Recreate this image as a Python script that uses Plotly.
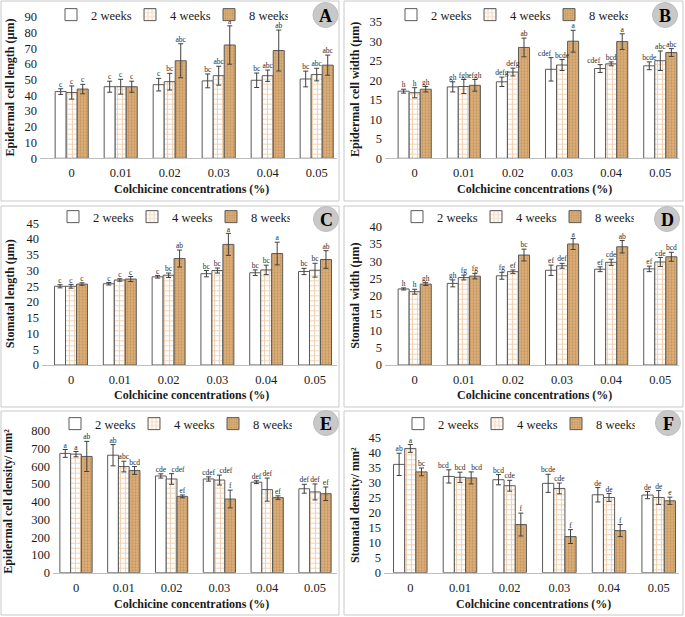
import plotly.graph_objects as go

concentrations = ["0", "0.01", "0.02", "0.03", "0.04", "0.05"]
weeks = ["2 weeks", "4 weeks", "8 weeks"]

# Panel A - Epidermal cell length (um)
a_mean_2w = [42.4, 45.5, 46.8, 49.2, 49.6, 50.4]
a_mean_4w = [41.8, 45.5, 48.7, 52.5, 52.5, 53.2]
a_mean_8w = [44.0, 45.5, 62.0, 72.0, 68.5, 59.2]
a_err_2w = [1.8, 3.5, 4.0, 4.4, 4.6, 5.0]
a_err_4w = [4.2, 4.7, 5.3, 6.0, 3.6, 4.0]
a_err_8w = [3.0, 3.5, 10.8, 12.2, 13.0, 6.4]
a_let_2w = ["c", "c", "c", "bc", "bc", "bc"]
a_let_4w = ["c", "c", "bc", "abc", "abc", "abc"]
a_let_8w = ["c", "c", "abc", "a", "ab", "abc"]

# Panel B - Epidermal cell width (um)
b_mean_2w = [17.2, 18.3, 19.6, 22.8, 23.0, 23.7]
b_mean_4w = [16.8, 18.4, 22.1, 23.9, 24.2, 25.0]
b_mean_8w = [17.7, 18.7, 28.4, 30.0, 29.9, 27.1]
b_err_2w = [0.5, 1.3, 1.2, 3.0, 1.0, 1.0]
b_err_4w = [1.3, 1.8, 1.0, 1.4, 0.5, 2.5]
b_err_8w = [0.7, 1.5, 2.4, 2.8, 2.0, 1.0]
b_let_2w = ["h", "gh", "defg", "cdef", "cdef", "bcde"]
b_let_4w = ["h", "fgh", "defg", "bcde", "bcd", "abc"]
b_let_8w = ["gh", "efgh", "ab", "a", "a", "abc"]

# Panel C - Stomatal length (um)
c_mean_2w = [25.0, 25.8, 28.0, 29.0, 29.3, 29.7]
c_mean_4w = [25.0, 27.0, 28.5, 30.0, 30.2, 30.1]
c_mean_8w = [25.7, 27.3, 33.8, 38.3, 35.4, 33.5]
c_err_2w = [0.5, 0.4, 0.4, 1.0, 0.9, 1.0]
c_err_4w = [0.6, 0.4, 0.7, 0.8, 1.5, 2.2]
c_err_8w = [0.4, 0.8, 2.7, 3.5, 3.6, 2.8]
c_let_2w = ["c", "c", "c", "bc", "bc", "bc"]
c_let_4w = ["c", "c", "bc", "bc", "bc", "bc"]
c_let_8w = ["c", "c", "ab", "a", "a", "ab"]

# Panel D - Stomatal width (um)
d_mean_2w = [22.0, 23.6, 25.8, 27.4, 27.7, 27.8]
d_mean_4w = [21.2, 25.3, 27.0, 28.7, 29.7, 29.8]
d_mean_8w = [23.4, 25.7, 31.8, 35.0, 34.2, 31.3]
d_err_2w = [0.3, 1.0, 1.0, 1.5, 0.7, 0.8]
d_err_4w = [0.7, 0.7, 0.5, 0.7, 0.9, 1.3]
d_err_8w = [0.4, 0.8, 1.7, 1.6, 1.8, 1.3]
d_let_2w = ["h", "gh", "fg", "ef", "ef", "ef"]
d_let_4w = ["h", "fg", "ef", "def", "cde", "cde"]
d_let_8w = ["gh", "fg", "bc", "a", "ab", "bcd"]

# Panel E - Epidermal cell density / mm2
e_mean_2w = [672, 662, 545, 528, 510, 473]
e_mean_4w = [668, 598, 528, 522, 468, 455]
e_mean_8w = [655, 576, 430, 415, 423, 445]
e_err_2w = [22, 60, 12, 12, 8, 25]
e_err_4w = [15, 30, 30, 28, 65, 45]
e_err_8w = [85, 22, 8, 50, 10, 38]
e_let_2w = ["a", "ab", "cde", "cdef", "def", "def"]
e_let_4w = ["a", "abc", "cdef", "cdef", "def", "def"]
e_let_8w = ["ab", "bcd", "ef", "f", "ef", "ef"]

# Panel F - Stomatal density / mm2
f_mean_2w = [36.0, 32.0, 30.9, 29.7, 25.9, 25.8]
f_mean_4w = [41.3, 31.7, 28.9, 28.0, 25.0, 25.0]
f_mean_8w = [33.5, 31.5, 16.0, 12.0, 14.0, 23.9]
f_err_2w = [3.7, 2.2, 1.7, 3.0, 2.4, 1.2]
f_err_4w = [1.3, 1.7, 1.8, 1.8, 1.3, 2.3]
f_err_8w = [1.3, 2.0, 3.8, 2.3, 2.0, 1.2]
f_let_2w = ["ab", "bcd", "bcd", "bcde", "de", "de"]
f_let_4w = ["a", "bcd", "cde", "cde", "de", "de"]
f_let_8w = ["bc", "bcd", "f", "f", "f", "e"]

y_titles = ["Epidermal cell length (µm)", "Epidermal cell width (µm)",
            "Stomatal length (µm)", "Stomatal width (µm)",
            "Epidermal cell density/ mm²", "Stomatal density/ mm²"]
panel_letters = ["A", "B", "C", "D", "E", "F"]
y_max = [90, 35, 45, 40, 800, 45]
y_dtick = [10, 5, 5, 5, 100, 5]
x_title = "Colchicine concentrations (%)"

panels_data = [
    ([a_mean_2w, a_mean_4w, a_mean_8w], [a_err_2w, a_err_4w, a_err_8w], [a_let_2w, a_let_4w, a_let_8w]),
    ([b_mean_2w, b_mean_4w, b_mean_8w], [b_err_2w, b_err_4w, b_err_8w], [b_let_2w, b_let_4w, b_let_8w]),
    ([c_mean_2w, c_mean_4w, c_mean_8w], [c_err_2w, c_err_4w, c_err_8w], [c_let_2w, c_let_4w, c_let_8w]),
    ([d_mean_2w, d_mean_4w, d_mean_8w], [d_err_2w, d_err_4w, d_err_8w], [d_let_2w, d_let_4w, d_let_8w]),
    ([e_mean_2w, e_mean_4w, e_mean_8w], [e_err_2w, e_err_4w, e_err_8w], [e_let_2w, e_let_4w, e_let_8w]),
    ([f_mean_2w, f_mean_4w, f_mean_8w], [f_err_2w, f_err_4w, f_err_8w], [f_let_2w, f_let_4w, f_let_8w]),
]

# label placement tweaks for crowded letters: (panel, series, index) -> textposition
label_shift = {
    (1, 0, 3): "top left", (1, 0, 4): "top left",
    (4, 1, 2): "top right", (4, 1, 3): "top right",
    (5, 0, 1): "top left", (5, 2, 1): "top right",
}

# ---------------- layout geometry (pixels) ----------------
W, H = 685, 617
def px(x):
    return x / W
def py(y):
    return 1 - y / H

# leg = (legend x in px, legend y in px or None for top-anchored)
geo = [
    dict(x0=40, x1=337, yt=16.7, yb=158.3, c0=71.7, c5=316.7, border=(1, 1, 339, 201),
         ytx=10, xty=188, xtx=191, leg=(51, None), circ=(325.5, 15)),
    dict(x0=385, x1=679, yt=21.7, yb=158.3, c0=414.7, c5=660.3, border=(344, 1, 683, 201),
         ytx=355, xty=188, xtx=534.5, leg=(391, None), circ=(665, 15)),
    dict(x0=42, x1=337, yt=223.3, yb=365, c0=71, c5=315, border=(1, 206, 339, 407),
         ytx=10, xty=394, xtx=191, leg=(53, 217), circ=(326, 219)),
    dict(x0=385, x1=679, yt=226.7, yb=365, c0=414.7, c5=660.3, border=(344, 206, 683, 407),
         ytx=355, xty=394, xtx=534.5, leg=(397, 217), circ=(667, 219)),
    dict(x0=53, x1=337, yt=430.7, yb=572.7, c0=76, c5=315, border=(1, 411, 339, 615),
         ytx=8, xty=603, xtx=191.7, leg=(55, 424), circ=(326, 423)),
    dict(x0=384, x1=679, yt=437.3, yb=572.7, c0=410.3, c5=658.7, border=(344, 411, 683, 615),
         ytx=355, xty=603, xtx=533.7, leg=(398, 424), circ=(668, 423)),
]

SERIF = "Liberation Serif"
fill_colors = ["#FFFFFF", "#FFFFFF", "#DCAE78"]
patterns = [
    dict(shape=""),
    dict(shape="+", fgcolor="#E3A566", bgcolor="#FFFFFF", size=5, solidity=0.4),
    dict(shape=".", fgcolor="#A8733E", bgcolor="#DCAE78", size=3, solidity=0.3),
]
outline = "#5A5A5A"
bw = 0.225

fig = go.Figure()
layout_upd = {}
shapes = []
annotations = []

for p, (means, errs, lets) in enumerate(panels_data):
    g = geo[p]
    n = p + 1
    xa = "x" if n == 1 else f"x{n}"
    ya = "y" if n == 1 else f"y{n}"
    leg = "legend" if n == 1 else f"legend{n}"
    idx = list(range(len(concentrations)))
    for k in range(3):
        fig.add_trace(go.Bar(
            x=idx, y=means[k], name=weeks[k], xaxis=xa, yaxis=ya,
            width=bw, offset=-1.5 * bw + k * bw,
            marker=dict(color=fill_colors[k], line=dict(color=outline, width=1),
                        pattern=patterns[k]),
            error_y=dict(type="data", array=errs[k], visible=True,
                         color="#404040", thickness=1, width=2.5),
            legend=leg, showlegend=True, hoverinfo="skip",
        ))
        tpos = [label_shift.get((p, k, i), "top center") for i in idx]
        fig.add_trace(go.Scatter(
            x=[i + (k - 1) * bw for i in idx],
            y=[m + e for m, e in zip(means[k], errs[k])],
            mode="text", text=lets[k], textposition=tpos,
            textfont=dict(family=SERIF, size=7.5, color="#2a2a2a"),
            xaxis=xa, yaxis=ya, showlegend=False, hoverinfo="skip",
        ))
    scale = (g["c5"] - g["c0"]) / 5.0
    r0 = -(g["c0"] - g["x0"]) / scale
    r1 = 5 + (g["x1"] - g["c5"]) / scale
    xkey = "xaxis" if n == 1 else f"xaxis{n}"
    ykey = "yaxis" if n == 1 else f"yaxis{n}"
    layout_upd[xkey] = dict(
        domain=[px(g["x0"]), px(g["x1"])], range=[r0, r1], anchor=ya,
        tickmode="array", tickvals=idx, ticktext=concentrations,
        showline=True, linecolor="#BFBFBF", linewidth=1, ticks="",
        showgrid=False, zeroline=False, ticklabelstandoff=3,
        tickfont=dict(family=SERIF, size=12.5, color="#1a1a1a"), fixedrange=True,
    )
    layout_upd[ykey] = dict(
        domain=[py(g["yb"]), py(g["yt"])], range=[0, y_max[p]], dtick=y_dtick[p],
        anchor=xa, showline=False, showgrid=False, zeroline=False, ticks="",
        tickfont=dict(family=SERIF, size=12.5, color="#1a1a1a"), ticklabelstandoff=2,
        fixedrange=True,
    )
    lx, ly = g["leg"]
    if ly is None:
        lpos = dict(y=1.0, yanchor="top")
    else:
        lpos = dict(y=py(ly), yanchor="middle")
    layout_upd[leg] = dict(
        orientation="h", x=px(lx), xanchor="left", bgcolor="rgba(0,0,0,0)",
        entrywidth=34, font=dict(family=SERIF, size=12.5, color="#1a1a1a"),
        itemwidth=30, tracegroupgap=0, **lpos,
    )
    bx0, by0, bx1, by1 = g["border"]
    shapes.append(dict(type="rect", xref="paper", yref="paper",
                       x0=px(bx0), x1=px(bx1), y0=py(by1), y1=py(by0),
                       line=dict(color="#C8C8C8", width=1), fillcolor="rgba(0,0,0,0)"))
    cx, cy = g["circ"]
    shapes.append(dict(type="circle", xref="paper", yref="paper",
                       x0=px(cx - 12.5), x1=px(cx + 12.5), y0=py(cy + 12.5), y1=py(cy - 12.5),
                       line=dict(color="#BDBDBD", width=1), fillcolor="#C8C8C8"))
    annotations.append(dict(text=f"<b>{panel_letters[p]}</b>", x=px(cx), y=py(cy + 1),
                            xref="paper", yref="paper", showarrow=False,
                            font=dict(family=SERIF, size=18, color="#000000"),
                            xanchor="center", yanchor="middle"))
    annotations.append(dict(text=f"<b>{y_titles[p]}</b>", x=px(g["ytx"]),
                            y=py((g["yt"] + g["yb"]) / 2), xref="paper", yref="paper",
                            showarrow=False, textangle=-90,
                            font=dict(family=SERIF, size=12, color="#1a1a1a"),
                            xanchor="center", yanchor="middle"))
    annotations.append(dict(text=f"<b>{x_title}</b>", x=px(g["xtx"]), y=py(g["xty"] + 1),
                            xref="paper", yref="paper", showarrow=False,
                            font=dict(family=SERIF, size=12, color="#1a1a1a"),
                            xanchor="center", yanchor="middle"))

fig.update_layout(
    width=W, height=H, autosize=False,
    margin=dict(l=0, r=0, t=0, b=0, autoexpand=False),
    paper_bgcolor="#FFFFFF", plot_bgcolor="rgba(0,0,0,0)",
    barmode="overlay", shapes=shapes, annotations=annotations,
    **layout_upd,
)

fig.write_html("out.html", config={"displayModeBar": False},
               post_script="document.body.style.margin='0';document.body.style.padding='0';")
